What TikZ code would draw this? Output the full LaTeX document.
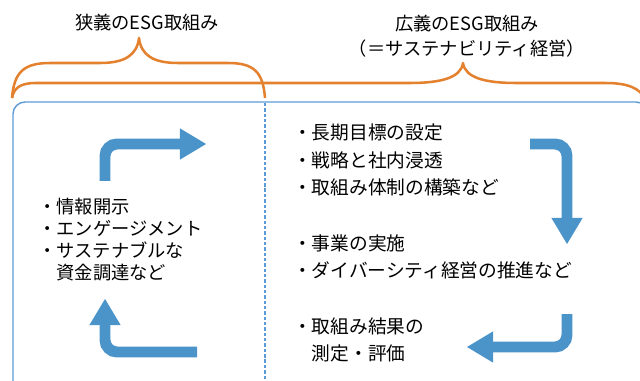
\documentclass[tikz,border=0pt]{standalone}
\usepackage{fontspec}
\setmainfont{Noto Sans CJK JP}
\usepackage{tikz}
\usetikzlibrary{arrows.meta}
\definecolor{esgblue}{HTML}{4A94C9}
\definecolor{esgframe}{HTML}{5B9BD5}
\definecolor{esgorange}{HTML}{E3812F}
\def\pxunit{0.025cm}
\def\bodysize{\fontsize{13pt}{15.6pt}\selectfont}
\def\stepsize{\fontsize{13.3pt}{19.6pt}\selectfont}
\def\titlesize{\fontsize{13pt}{17.7pt}\selectfont}
\tikzset{brace/.style={draw=esgorange, line width=1.8pt, line join=round}}
\tikzset{frame/.style={draw=esgframe, line width=1pt, rounded corners=3mm}}
\tikzset{divider/.style={draw=esgframe, line width=1pt, dash pattern=on 2.4pt off 1.4pt}}
\tikzset{flow/.style={draw=esgblue, line width=7.8pt, rounded corners=3mm,
    -{Triangle[length=6.5mm, width=7.8mm, line width=0pt]}}}
\tikzset{title/.style={align=center, font=\titlesize, inner sep=0pt}}
\tikzset{items/.style={align=left, anchor=west, inner sep=0pt}}

\begin{document}
\begin{tikzpicture}[x=\pxunit, y=-\pxunit]
\useasboundingbox (0,0) rectangle (640,381);
\clip (0,0) rectangle (640,381);

% frame and divider
\draw[frame] (13,102) rectangle (648,410);
\draw[divider] (265,103) -- (265,381);

% braces
\draw[brace] (12,98) .. controls (14,72) and (24,63) .. (50,63) -- (100,63)
  .. controls (125,63) and (137,55) .. (139,38)
  .. controls (141,55) and (153,63) .. (178,63) -- (228,63)
  .. controls (254,63) and (263,72) .. (265,98);
\draw[brace] (12,98) .. controls (14,88) and (20,83) .. (36,83) -- (410,83)
  .. controls (440,83) and (461,78) .. (463,63)
  .. controls (465,78) and (486,83) .. (516,83) -- (605,83)
  .. controls (628,83) and (640,88) .. (646,100);

\node (t1) [title] at (147,23) {狭義のESG取組み};
\node (t2) [title] at (467,36) {広義のESG取組み\\（＝サステナビリティ経営）};

% left column
\node (l) [items, font=\bodysize] at (38,240) {・情報開示\\・エンゲージメント\\・サステナブルな\\\phantom{・}資金調達など};

% right column
\node (r1) [items, font=\stepsize] at (293,160) {・長期目標の設定\\・戦略と社内浸透\\・取組み体制の構築など};
\node (r2) [items, font=\stepsize] at (293,257) {・事業の実施\\・ダイバーシティ経営の推進など};
\node (r3) [items, font=\stepsize] at (293,340) {・取組み結果の\\\phantom{・}測定・評価};

% cycle arrows
\coordinate (a0) at (105,181);
\coordinate (a1) at (206,144);
\coordinate (b0) at (530,144);
\coordinate (b1) at (567,244);
\coordinate (c0) at (567,314);
\coordinate (c1) at (467,347);
\coordinate (d0) at (197,352);
\coordinate (d1) at (105,299);

\draw[flow] (a0) |- (a1);
\draw[flow] (b0) -| (b1);
\draw[flow] (c0) |- (c1);
\draw[flow] (d0) -| (d1);
\end{tikzpicture}
\end{document}
